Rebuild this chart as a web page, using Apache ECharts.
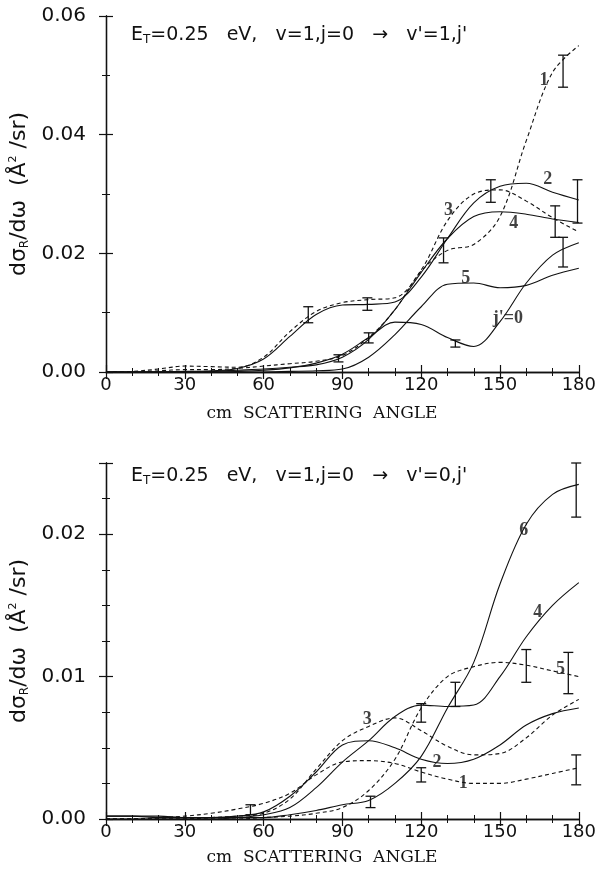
<!DOCTYPE html>
<html>
<head>
<meta charset="utf-8">
<script src="https://cdn.jsdelivr.net/npm/echarts@6/dist/echarts.min.js"></script>
<style>
  html, body { margin: 0; padding: 0; background: #fff; }
  #chart { width: 599px; height: 870px; }
</style>
</head>
<body>
<div id="chart"></div>
<script>
// scattering angle grid (deg)
const angles = [0, 10, 20, 30, 40, 50, 60, 70, 80, 90, 100, 110, 120, 130, 140, 150, 160, 170, 180];

// v'=1 panel
const v1J0 = [0, 0, 0, 0, 0, 0.0001, 0.0003, 0.0007, 0.0015, 0.0030, 0.0058, 0.0084, 0.0080, 0.0058, 0.0043, 0.0085, 0.0150, 0.0197, 0.0218];
const v1J1 = [0, 0, 0.0002, 0.0004, 0.0004, 0.0006, 0.0010, 0.0014, 0.0018, 0.0028, 0.0058, 0.0105, 0.0170, 0.0205, 0.0215, 0.0262, 0.0390, 0.0505, 0.0550];
const v1J2 = [0, 0, 0, 0.0001, 0.0002, 0.0006, 0.0022, 0.0060, 0.0097, 0.0113, 0.0114, 0.0118, 0.0160, 0.0225, 0.0285, 0.0313, 0.0318, 0.0303, 0.0290];
const v1J3 = [0, 0.0001, 0.0005, 0.0010, 0.0009, 0.0008, 0.0025, 0.0068, 0.0102, 0.0117, 0.0122, 0.0125, 0.0172, 0.0255, 0.0300, 0.0307, 0.0288, 0.0260, 0.0236];
const v1J4 = [0, 0, 0, 0, 0.0001, 0.0003, 0.0005, 0.0008, 0.0012, 0.0025, 0.0055, 0.0105, 0.0168, 0.0225, 0.0262, 0.0270, 0.0266, 0.0258, 0.0252];
const v1J5 = [0, 0, 0, 0, 0, 0, 0, 0.0001, 0.0002, 0.0005, 0.0025, 0.0063, 0.0110, 0.0148, 0.0150, 0.0142, 0.0146, 0.0163, 0.0175];
// [angle, low, high]
const v1Err = [[77, 0.0083, 0.0110], [88.5, 0.0017, 0.0029], [99.5, 0.0104, 0.0125], [100, 0.0049, 0.0066],
  [128.5, 0.0184, 0.0226], [133, 0.0042, 0.0054], [146.5, 0.0286, 0.0324], [171, 0.0227, 0.0280],
  [174, 0.0177, 0.0227], [174, 0.0480, 0.0534], [179.5, 0.0251, 0.0324]];
const v1Tags = ['1', '2', '3', '4', '5', "j'=0"];
const v1TagAt = [[166.7, 0.0492], [168.2, 0.0324], [130.4, 0.0273], [155.2, 0.0251], [137, 0.0158], [153, 0.0091]];

// v'=0 panel
const v0J1 = [0, 0, 0.0001, 0.0002, 0.0004, 0.0007, 0.0011, 0.0018, 0.0031, 0.0040, 0.0041, 0.0039, 0.0033, 0.0028, 0.0025, 0.0025, 0.0028, 0.0032, 0.0036];
const v0J2 = [0.0002, 0.0002, 0.0001, 0.0001, 0.0001, 0.0002, 0.0005, 0.0016, 0.0033, 0.0052, 0.0055, 0.0050, 0.0042, 0.0039, 0.0042, 0.0052, 0.0066, 0.0074, 0.0078];
const v0J3 = [0, 0, 0, 0, 0.0001, 0.0002, 0.0004, 0.0014, 0.0035, 0.0055, 0.0065, 0.0071, 0.0062, 0.0051, 0.0045, 0.0046, 0.0057, 0.0073, 0.0084];
const v0J4 = [0, 0, 0, 0, 0, 0.0001, 0.0003, 0.0008, 0.0022, 0.0040, 0.0055, 0.0072, 0.0080, 0.0079, 0.0080, 0.0100, 0.0128, 0.0150, 0.0166];
const v0J5 = [0, 0, 0, 0, 0, 0, 0.0001, 0.0002, 0.0004, 0.0008, 0.0020, 0.0042, 0.0078, 0.0100, 0.0107, 0.0110, 0.0108, 0.0104, 0.0100];
const v0J6 = [0.0002, 0.0002, 0.0002, 0.0001, 0.0001, 0.0001, 0.0001, 0.0003, 0.0006, 0.0010, 0.0013, 0.0025, 0.0044, 0.0078, 0.0110, 0.0165, 0.0207, 0.0228, 0.0235];
const v0Err = [[55, 0.0003, 0.0010], [100.7, 0.0008, 0.0016], [120, 0.0068, 0.0081], [120, 0.0026, 0.0036],
  [133, 0.0079, 0.0096], [160, 0.0096, 0.0119], [176, 0.0088, 0.0117], [179, 0.0024, 0.0045], [179, 0.0212, 0.0250]];
const v0Tags = ['6', '4', '5', '3', '2', '1'];
const v0TagAt = [[159, 0.0203], [164.4, 0.0145], [173, 0.0105], [99.5, 0.0070], [126, 0.0040], [136, 0.0025]];

const xTicks = [0, 30, 60, 90, 120, 150, 180];

const INK = '#111';
const SANS = 'DejaVu Sans, Liberation Sans, sans-serif';
const SERIF = 'DejaVu Serif, Liberation Serif, serif';
const BOLDSERIF = 'Liberation Serif, Times New Roman, serif';

const chart = echarts.init(document.getElementById('chart'));

function pairs(ys) {
  return angles.map((a, i) => [a, ys[i]]);
}

function curve(ys, dashed, g) {
  return {
    type: 'line',
    xAxisIndex: g * 2,
    yAxisIndex: g * 2,
    data: pairs(ys),
    smooth: 0.35,
    showSymbol: false,
    silent: true,
    lineStyle: { color: INK, width: 1.1, type: dashed ? [4, 3] : 'solid' }
  };
}

function errBars(rows, g) {
  return {
    type: 'custom',
    xAxisIndex: g * 2,
    yAxisIndex: g * 2,
    data: rows,
    encode: { x: 0, y: [1, 2] },
    renderItem: function (params, api) {
      const lo = api.coord([api.value(0), api.value(1)]);
      const hi = api.coord([api.value(0), api.value(2)]);
      const w = 5;
      const st = { stroke: INK, lineWidth: 1.3 };
      return {
        type: 'group',
        children: [
          { type: 'line', shape: { x1: lo[0], y1: lo[1], x2: hi[0], y2: hi[1] }, style: st },
          { type: 'line', shape: { x1: lo[0] - w, y1: lo[1], x2: lo[0] + w, y2: lo[1] }, style: st },
          { type: 'line', shape: { x1: hi[0] - w, y1: hi[1], x2: hi[0] + w, y2: hi[1] }, style: st }
        ]
      };
    }
  };
}

function tags(names, at, g) {
  return {
    type: 'scatter',
    xAxisIndex: g * 2,
    yAxisIndex: g * 2,
    symbolSize: 0,
    silent: true,
    data: names.map((n, i) => ({ name: n, value: at[i] })),
    label: {
      show: true,
      position: 'inside',
      formatter: '{b}',
      color: INK,
      fontFamily: BOLDSERIF,
      fontWeight: 'bold',
      fontSize: 18
    }
  };
}

function xAxes(g) {
  const base = {
    gridIndex: g,
    type: 'value',
    min: 0,
    max: 180,
    interval: 30,
    axisLine: { lineStyle: { color: INK, width: 1.3 } },
    axisTick: { inside: true, length: 7, lineStyle: { color: INK, width: 1.2 } },
    minorTick: { show: true, splitNumber: 3, length: 4, lineStyle: { color: INK, width: 1 } },
    splitLine: { show: false }
  };
  return [
    Object.assign({}, base, {
      position: 'bottom',
      axisLabel: {
        margin: 4, color: INK, fontFamily: SANS, fontSize: 18,
        formatter: v => (xTicks.indexOf(v) >= 0 ? String(v) : '')
      }
    }),
    Object.assign({}, base, { position: 'top', axisLabel: { show: false } })
  ];
}

function yAxes(g, max, step, minorSplit) {
  const base = {
    gridIndex: g,
    type: 'value',
    min: 0,
    max: max,
    interval: step,
    axisLine: { lineStyle: { color: INK, width: 1.3 } },
    axisTick: { inside: true, length: 7, lineStyle: { color: INK, width: 1.2 } },
    minorTick: { show: true, splitNumber: minorSplit, length: 4, lineStyle: { color: INK, width: 1 } },
    splitLine: { show: false }
  };
  return [
    Object.assign({}, base, {
      position: 'left',
      axisLabel: {
        margin: 20, color: INK, fontFamily: SANS, fontSize: 20,
        // only label whole steps (hide the top 0.025 of the lower panel)
        formatter: v => (Math.abs(v / step - Math.round(v / step)) < 1e-6 ? v.toFixed(2) : '')
      },
      name: 'dσ{s|R}/dω  (Å{p|2} /sr)',
      nameLocation: 'middle',
      nameGap: 53,
      nameTextStyle: {
        color: INK, fontFamily: SANS, fontSize: 22,
        rich: {
          s: { fontSize: 12, color: INK, fontFamily: SANS, padding: [10, 0, 0, 0] },
          p: { fontSize: 11, color: INK, fontFamily: SANS, padding: [0, 0, 12, 0] }
        }
      }
    }),
    Object.assign({}, base, { position: 'right', axisLabel: { show: false } })
  ];
}

const titleRich = {
  s: { fontSize: 12, color: INK, fontFamily: SANS, padding: [9, 0, 0, 0] }
};

chart.setOption({
  animation: false,
  backgroundColor: '#fff',
  title: [
    {
      text: "E{s|T}=0.25   eV,   v=1,j=0   →   v'=1,j'",
      left: 126, top: 20,
      textStyle: { color: INK, fontFamily: SANS, fontWeight: 'normal', fontSize: 19, rich: titleRich }
    },
    {
      text: "E{s|T}=0.25   eV,   v=1,j=0   →   v'=0,j'",
      left: 126, top: 461,
      textStyle: { color: INK, fontFamily: SANS, fontWeight: 'normal', fontSize: 19, rich: titleRich }
    }
  ],
  grid: [
    { left: 106, top: 16, width: 474, height: 356 },
    { left: 106, top: 463, width: 474, height: 356 }
  ],
  xAxis: xAxes(0).concat(xAxes(1)),
  yAxis: yAxes(0, 0.06, 0.02, 2).concat(yAxes(1, 0.025, 0.01, 4)),
  graphic: [
    { type: 'text', x: 322, y: 414, style: { text: 'cm  SCATTERING  ANGLE', font: '17px ' + SERIF, fill: INK, align: 'center', verticalAlign: 'middle' } },
    { type: 'text', x: 322, y: 858, style: { text: 'cm  SCATTERING  ANGLE', font: '17px ' + SERIF, fill: INK, align: 'center', verticalAlign: 'middle' } }
  ],
  series: [
    curve(v1J0, false, 0), curve(v1J1, true, 0), curve(v1J2, false, 0),
    curve(v1J3, true, 0), curve(v1J4, false, 0), curve(v1J5, false, 0),
    errBars(v1Err, 0), tags(v1Tags, v1TagAt, 0),
    curve(v0J1, true, 1), curve(v0J2, false, 1), curve(v0J3, true, 1),
    curve(v0J4, false, 1), curve(v0J5, true, 1), curve(v0J6, false, 1),
    errBars(v0Err, 1), tags(v0Tags, v0TagAt, 1)
  ]
});
</script>
</body>
</html>
